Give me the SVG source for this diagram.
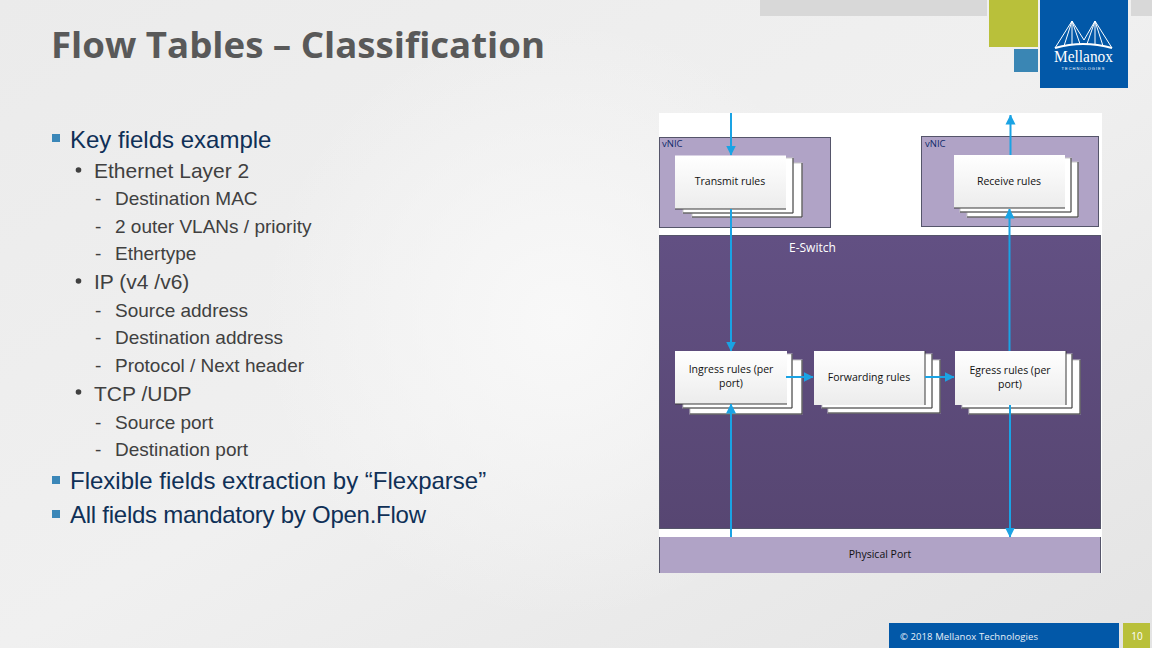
<svg xmlns="http://www.w3.org/2000/svg" width="1152" height="648" viewBox="0 0 1152 648">
<defs>
<linearGradient id="bg" x1="0" y1="0" x2="1" y2="1"><stop offset="0" stop-color="#ebebeb"/><stop offset=".5" stop-color="#f0f0f0"/><stop offset="1" stop-color="#e4e4e4"/></linearGradient>
<radialGradient id="glow" cx="560" cy="320" r="300" gradientUnits="userSpaceOnUse"><stop offset="0" stop-color="#f8f8f8"/><stop offset="1" stop-color="#f8f8f8" stop-opacity="0"/></radialGradient>
<linearGradient id="sw" x1="0" y1="0" x2="0" y2="1"><stop offset="0" stop-color="#625083"/><stop offset="1" stop-color="#574672"/></linearGradient>
<linearGradient id="card" x1="0" y1="0" x2="0" y2="1"><stop offset="0" stop-color="#ffffff"/><stop offset="1" stop-color="#ececec"/></linearGradient>
<marker id="ah" viewBox="0 0 10 10" refX="9.500" refY="5" markerWidth="10" markerHeight="11" markerUnits="userSpaceOnUse" orient="auto"><path d="M0 0L10 5L0 10Z" fill="#1aa3e4"/></marker>
</defs>
<style>
.b{font-family:"Liberation Sans",Arial,sans-serif}
.l1{font-size:24px;fill:#0f3057}
.l2{font-size:21px;fill:#404040}
.l3{font-size:19px;fill:#404040}
.sq{fill:#3b87b8}
.dot{fill:#404040}
.d{font-family:"Open Sans","Liberation Sans",sans-serif;font-size:10.500px;fill:#111;text-anchor:middle}
.v{fill:#b0a3c6;stroke:#55556a;stroke-width:1}
.c0{fill:#fff;stroke:#c8c8c8;stroke-width:1}
.c{fill:url(#card)}
.e{fill:none;stroke:#3a3a3a;stroke-width:1}
.cn{stroke:#1aa3e4;stroke-width:2;fill:none;marker-end:url(#ah)}
</style>
<rect width="1152" height="648" fill="url(#bg)"/>
<rect width="1152" height="648" fill="url(#glow)"/>
<g id="header">
<rect x="760" y="0" width="227" height="16" fill="#d8d8d8"/>
<rect x="1131" y="0" width="21" height="16" fill="#d8d8d8"/>
<rect x="989" y="0" width="49" height="47" fill="#b9c03a"/>
<rect x="1014" y="49" width="24" height="23" fill="#3a86b4"/>
<rect x="1040" y="0" width="88" height="88" fill="#0258a8"/>
<g fill="none" stroke="#fff" stroke-width="1">
<path d="M1055 48L1072 21L1084 40M1084 40L1095 21L1112 48M1072 21V44M1095 21V44M1072 21L1064 46M1072 21L1080 44M1095 21L1087 44M1095 21L1103 46"/>
<path d="M1055 48Q1083 40 1112 48" stroke-width="2"/>
</g>
<text x="1083.500" y="62" text-anchor="middle" font-family="Liberation Serif,serif" font-size="16.500" fill="#fff" textLength="59" lengthAdjust="spacingAndGlyphs">Mellanox</text>
<text x="1083.500" y="69.500" text-anchor="middle" font-family="Liberation Sans,sans-serif" font-size="4" fill="#fff" letter-spacing="1">TECHNOLOGIES</text>
</g>
<text x="51" y="58" font-family="Open Sans,Liberation Sans,sans-serif" font-weight="bold" font-size="36" fill="#595959" textLength="494" lengthAdjust="spacingAndGlyphs">Flow Tables – Classification</text>
<g id="bullets" class="b">
<rect x="52" y="134" width="8" height="8" class="sq"/>
<text x="70" y="148" class="l1">Key fields example</text>
<circle cx="78.500" cy="170" r="2.800" class="dot"/>
<text x="94" y="178" class="l2">Ethernet Layer 2</text>
<text x="95" y="205" class="l3">-</text><text x="115" y="205" class="l3">Destination MAC</text>
<text x="95" y="233" class="l3">-</text><text x="115" y="233" class="l3">2 outer VLANs / priority</text>
<text x="95" y="260" class="l3">-</text><text x="115" y="260" class="l3">Ethertype</text>
<circle cx="78.500" cy="281" r="2.800" class="dot"/>
<text x="94" y="289" class="l2">IP (v4 /v6)</text>
<text x="95" y="317" class="l3">-</text><text x="115" y="317" class="l3">Source address</text>
<text x="95" y="344" class="l3">-</text><text x="115" y="344" class="l3">Destination address</text>
<text x="95" y="372" class="l3">-</text><text x="115" y="372" class="l3">Protocol / Next header</text>
<circle cx="78.500" cy="392" r="2.800" class="dot"/>
<text x="94" y="401" class="l2">TCP /UDP</text>
<text x="95" y="429" class="l3">-</text><text x="115" y="429" class="l3">Source port</text>
<text x="95" y="456" class="l3">-</text><text x="115" y="456" class="l3">Destination port</text>
<rect x="52" y="476" width="8" height="8" class="sq"/>
<text x="70" y="489" class="l1">Flexible fields extraction by “Flexparse”</text>
<rect x="52" y="510" width="8" height="8" class="sq"/>
<text x="70" y="523" class="l1" textLength="356">All fields mandatory by Open.Flow</text>
</g>
<rect id="panel" x="659" y="113" width="443" height="460" fill="#fff"/>
<g id="vnic-left"><rect x="659.500" y="137.500" width="171" height="90" class="v"/><text x="662" y="147" font-family="Open Sans,sans-serif" font-size="9.500" fill="#0f2a6a">vNIC</text></g>
<g id="vnic-right"><rect x="921.500" y="136.500" width="177" height="90" class="v"/><text x="925" y="147" font-family="Open Sans,sans-serif" font-size="9.500" fill="#0f2a6a">vNIC</text></g>
<g id="e-switch"><rect x="659.500" y="235.500" width="441" height="293" fill="url(#sw)" stroke="#55556a"/><text x="789" y="252" font-family="Open Sans,sans-serif" font-size="12" fill="#fff">E-Switch</text></g>
<g id="physical-port"><rect x="659" y="537" width="442" height="36" fill="#b0a3c6"/><path d="M659.500 537V573M1100.500 537V573" stroke="#55556a"/><text x="880" y="558" class="d">Physical Port</text></g>
<g id="transmit-rules">
<rect x="692" y="163" width="110" height="54" class="c0"/><rect x="683" y="158" width="110" height="55" class="c0"/><rect x="675" y="155.500" width="111" height="53.500" class="c"/>
<path d="M692 217H802V163M683 213H793V158M675 209H786" class="e"/><text x="730" y="185" class="d">Transmit rules</text></g>
<g id="receive-rules">
<rect x="967" y="162" width="111" height="55" class="c0"/><rect x="960" y="158" width="111" height="54" class="c0"/><rect x="954" y="155" width="111" height="53" class="c"/>
<path d="M967 217H1078V162M960 212H1071V158M954 208H1065" class="e"/><text x="1009" y="185" class="d">Receive rules</text></g>
<g id="ingress-rules">
<rect x="690" y="360" width="112" height="54" class="c0"/><rect x="683" y="354" width="109" height="54" class="c0"/><rect x="675" y="351" width="112" height="53" class="c"/>
<path d="M690 414H802V360M683 408H792V354M675 404H787" class="e"/><text x="731" y="373" class="d">Ingress rules (per</text><text x="731" y="387" class="d">port)</text></g>
<g id="forwarding-rules">
<rect x="828" y="360" width="112" height="53" class="c0"/><rect x="822" y="354" width="110" height="54" class="c0"/><rect x="814" y="351" width="111" height="54" class="c"/>
<path d="M828 413H940V360M822 408H932V354M925 351V405" class="e"/><text x="869" y="381" class="d">Forwarding rules</text></g>
<g id="egress-rules">
<rect x="969" y="360" width="111" height="54" class="c0"/><rect x="962" y="354" width="110" height="54" class="c0"/><rect x="955" y="351" width="111" height="54" class="c"/>
<path d="M969 414H1080V360M962 408H1072V354M1066 351V405" class="e"/><text x="1010" y="374" class="d">Egress rules (per</text><text x="1010" y="388" class="d">port)</text></g>
<g id="connectors">
<path d="M731 113V155" class="cn"/>
<path d="M731 209V351" class="cn"/>
<path d="M731 537V404" class="cn"/>
<path d="M1010.500 155V115" class="cn"/>
<path d="M1009.500 351V209" class="cn"/>
<path d="M1010 405V537" class="cn"/>
<path d="M786 377H813" class="cn"/>
<path d="M925 377H954" class="cn"/>
</g>
<g id="footer">
<rect x="889" y="623" width="230" height="25" fill="#0258a8"/>
<rect x="1123" y="623" width="27" height="25" fill="#b9c03a"/>
<text x="900" y="640" font-family="Open Sans,sans-serif" font-size="9.500" fill="#e8f0f8" textLength="138">© 2018 Mellanox Technologies</text>
<text x="1137" y="640" text-anchor="middle" font-family="Open Sans,sans-serif" font-size="10" fill="#fff">10</text>
</g>
</svg>
